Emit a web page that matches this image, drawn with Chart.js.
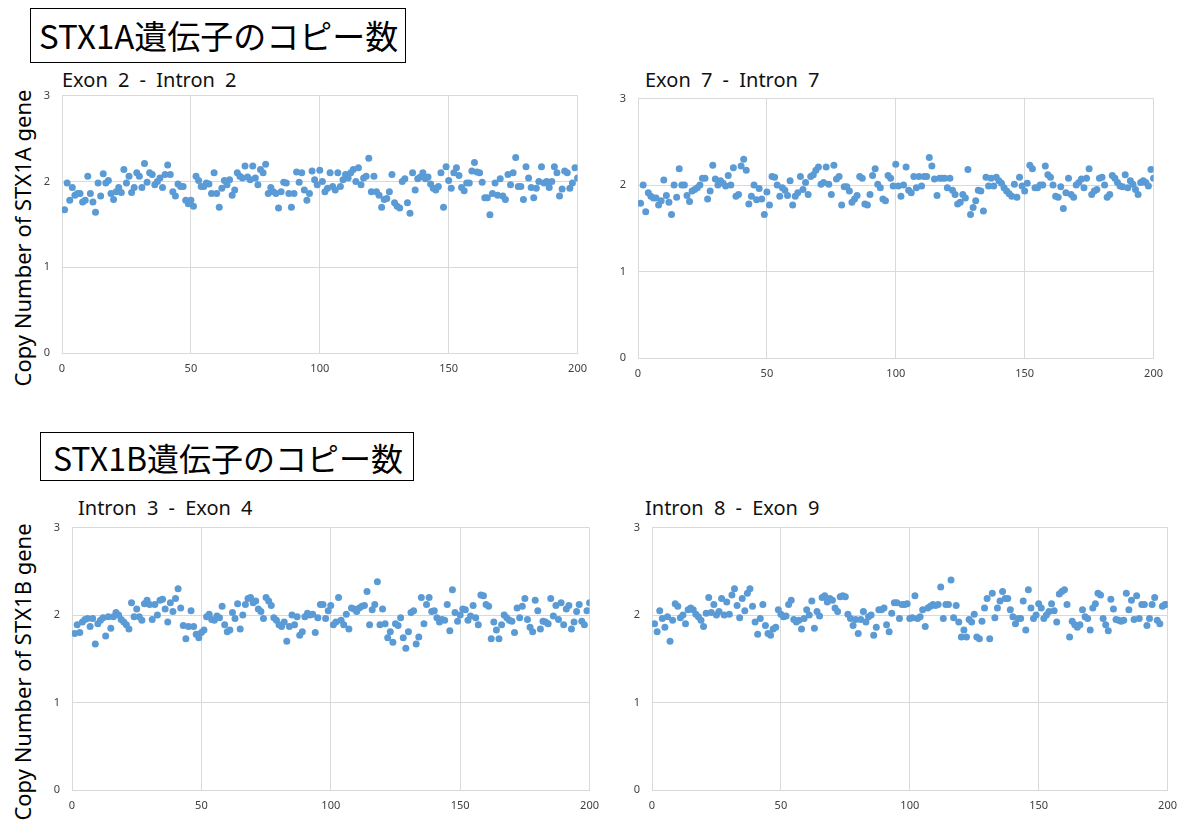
<!DOCTYPE html>
<html>
<head>
<meta charset="utf-8">
<script src="https://cdn.jsdelivr.net/npm/chart.js@4.4.1/dist/chart.umd.min.js"></script>
<style>
  body { margin: 0; background: #fff; }
  #page { position: relative; width: 1185px; height: 832px; overflow: hidden; background: #fff; }
  .box { position: absolute; border: 1px solid #000; font-family: "Noto Sans CJK JP", sans-serif; color: #000; line-height: 1; display: flex; align-items: center; box-sizing: border-box; }
  .ylab { position: absolute; font-family: "Noto Sans", sans-serif; font-size: 22px; color: #000; white-space: nowrap; transform: translate(-50%, -50%) rotate(-90deg); }
  .ttl { position: absolute; font-family: "Noto Sans", sans-serif; font-size: 20px; color: #111; white-space: nowrap; word-spacing: 5px; }
  canvas { position: absolute; }
</style>
</head>
<body>
<div id="page">
  <div class="box" style="left:30px;top:8px;width:376px;height:55px;font-size:33px;padding-left:8px;">STX1A遺伝子のコピー数</div>
  <div class="box" style="left:40px;top:432px;width:374px;height:49px;font-size:32px;padding-left:12px;">STX1B遺伝子のコピー数</div>
  <div class="ylab" style="left:22px;top:238px;">Copy Number of STX1A gene</div>
  <div class="ylab" style="left:22px;top:672px;">Copy Number of STX1B gene</div>
  <div class="ttl" style="left:62px;top:66px;">Exon 2 - Intron 2</div>
  <div class="ttl" style="left:645px;top:66px;">Exon 7 - Intron 7</div>
  <div class="ttl" style="left:78px;top:494px;">Intron 3 - Exon 4</div>
  <div class="ttl" style="left:645px;top:494px;">Intron 8 - Exon 9</div>
  <canvas id="c1"></canvas>
  <canvas id="c2"></canvas>
  <canvas id="c3"></canvas>
  <canvas id="c4"></canvas>
</div>
<script>
const xTicks = [0, 50, 100, 150, 200];
const yTicks = [0, 1, 2, 3];

const exon2Intron2 = [
  1.67,1.98,1.78,1.93,1.84,1.86,1.86,1.76,1.78,2.06,
  1.86,1.76,1.64,1.98,1.83,2.09,1.98,2.01,1.86,1.79,
  1.88,1.93,1.87,2.14,1.98,2.06,1.87,1.93,2.10,2.06,
  1.93,2.21,1.99,2.10,2.08,1.96,2.00,2.04,1.93,2.08,
  2.19,2.08,1.88,1.83,1.97,1.94,1.94,1.78,1.74,1.78,
  1.71,2.06,2.01,1.94,1.94,1.98,1.97,1.86,2.10,1.86,
  1.70,1.92,2.01,1.96,2.02,1.84,1.90,
  2.10,2.06,2.04,2.18,2.05,2.02,2.18,2.04,1.96,2.14,
  2.10,2.20,1.86,1.93,1.88,1.86,1.69,1.88,1.99,
  1.98,1.86,1.70,1.86,2.11,1.99,2.10,1.90,1.78,1.86,
  2.12,2.02,1.96,2.13,2.00,1.88,1.92,2.10,1.94,1.90,
  2.10,1.94,2.02,2.08,2.04,2.10,2.14,2.00,2.16,
  1.96,2.04,2.06,2.27,1.88,2.06,1.88,1.84,1.70,1.79,
  1.80,1.88,2.08,1.75,1.71,1.69,2.00,2.03,1.75,1.63,
  2.10,1.90,2.03,2.05,2.10,2.03,2.05,1.97,1.92,1.90,
  1.94,2.10,1.70,2.17,2.01,1.92,2.10,2.16,2.07,1.93,
  1.89,1.98,1.98,2.12,2.22,2.11,2.10,1.99,1.81,1.81,
  1.61,1.86,1.98,1.84,2.03,1.83,1.79,2.08,1.96,
  2.10,2.28,1.94,1.94,1.79,2.17,2.04,1.93,1.81,1.92,
  2.00,2.17,1.98,2.00,1.93,2.00,2.17,2.10,1.83,
  1.91,2.12,2.10,1.92,1.98,2.16,2.04
];

const exon7Intron7 = [
  1.79,2.00,1.69,1.91,1.87,1.85,1.85,1.77,1.82,2.06,
  1.88,1.80,1.66,2.00,1.86,2.19,2.00,2.00,1.88,1.81,
  1.93,1.95,1.97,2.00,2.08,2.08,1.84,1.93,2.23,2.07,
  2.00,2.05,2.02,1.99,2.11,2.00,2.20,1.87,1.89,
  2.22,2.30,2.17,1.78,1.87,2.00,1.83,1.96,1.84,1.66,
  1.92,1.77,2.10,2.09,2.00,1.87,1.97,1.94,1.88,2.05,
  1.77,1.87,1.91,2.10,1.95,2.03,1.89,2.10,
  2.12,2.17,2.21,2.01,2.03,2.21,2.01,1.89,2.23,2.07,
  2.10,1.77,1.98,1.98,1.93,1.80,1.84,1.88,2.10,2.08,
  1.78,1.77,1.89,2.11,2.19,2.01,1.97,1.84,1.82,2.11,
  2.08,1.99,2.24,1.99,1.87,2.00,2.21,1.94,1.91,2.10,
  1.97,2.10,1.99,2.10,2.10,2.32,2.22,2.07,1.88,2.08,
  2.08,2.08,1.97,2.08,1.94,1.89,1.78,1.80,1.89,1.85,
  2.18,1.66,1.74,1.82,1.94,1.93,1.70,
  2.09,1.99,2.08,1.99,2.09,2.05,2.02,1.97,1.93,1.90,
  1.87,2.01,1.86,2.09,1.99,1.93,2.02,2.23,2.19,1.97,
  1.97,2.00,2.00,2.22,2.12,2.09,2.00,1.87,1.86,
  1.98,1.73,1.91,2.08,1.89,1.86,2.00,2.03,2.07,
  1.97,2.08,2.19,1.89,1.93,1.95,2.08,2.09,2.00,1.86,
  1.89,2.11,2.08,2.03,1.99,1.98,2.12,1.97,2.05,2.01,
  1.95,1.89,2.03,2.05,2.03,1.99,2.18,2.08
];

const intron3Exon4 = [
  1.79,1.89,1.80,1.92,1.95,1.96,1.87,1.96,1.67,1.90,
  1.94,1.97,1.76,1.98,1.85,1.98,2.03,2.00,
  1.95,1.92,1.89,1.84,2.14,1.98,2.07,1.98,
  1.94,2.13,2.17,2.12,1.95,2.12,2.00,2.17,2.18,2.07,
  1.92,2.14,2.04,2.19,2.30,2.08,1.88,1.73,1.87,2.05,
  1.87,1.78,1.74,1.80,1.83,1.98,2.01,1.95,1.94,
  1.99,1.97,2.10,1.89,1.81,1.83,2.03,1.96,2.13,
  1.84,2.00,
  2.12,2.19,2.20,2.14,2.16,2.07,2.04,1.96,2.20,
  2.16,2.11,1.97,1.94,1.89,1.87,1.92,1.70,1.87,2.00,
  1.89,1.98,1.77,1.81,1.98,2.02,2.00,2.01,1.80,
  1.97,2.12,2.12,1.96,2.05,2.11,1.89,1.92,2.20,1.94,
  1.89,2.01,1.84,2.08,2.07,2.04,2.08,2.10,2.11,2.27,
  1.89,2.06,2.12,2.38,1.89,2.07,1.90,1.74,1.81,1.69,
  1.90,1.88,1.97,1.74,1.62,1.81,2.03,2.05,1.67,
  1.75,2.20,1.90,2.12,2.20,2.04,2.05,1.97,1.92,
  1.95,1.94,2.12,1.82,2.29,2.03,1.93,2.00,2.07,2.06,
  1.94,1.99,2.11,1.97,1.89,2.23,2.22,2.12,2.10,1.73,
  1.92,1.83,1.73,1.89,2.00,1.97,1.94,1.93,1.80,2.08,
  1.97,2.10,2.19,1.95,1.86,1.81,2.17,2.05,1.84,1.93,
  1.92,1.90,2.19,1.99,2.11,1.95,2.14,1.89,2.07,2.11,
  1.84,1.92,2.04,2.12,1.93,1.89,2.05,2.14
];

const intron8Exon9 = [
  1.90,1.81,2.05,1.96,1.86,1.98,1.70,1.94,2.13,2.10,
  1.97,2.00,1.90,2.06,2.08,2.06,2.01,1.98,1.94,
  1.87,2.02,2.20,2.03,2.12,2.00,2.04,2.19,2.00,
  2.15,2.01,2.23,2.30,2.11,1.97,2.19,2.05,2.25,2.30,
  2.10,1.92,1.78,1.96,2.12,1.88,1.79,1.77,1.84,1.86,
  2.06,2.01,1.98,1.99,2.12,2.17,1.95,1.92,1.94,1.84,
  1.96,2.06,2.00,2.16,1.85,2.04,1.99,2.20,
  2.22,2.15,2.19,2.17,2.08,2.04,2.21,2.22,2.21,
  2.01,1.96,1.88,1.95,1.79,1.95,2.04,1.92,1.98,2.00,
  1.77,1.86,2.06,2.06,2.08,1.89,1.81,2.02,2.14,
  2.14,1.96,2.12,2.12,2.13,1.96,1.97,2.22,1.96,1.98,
  2.06,1.87,2.08,2.10,2.12,2.11,2.12,2.32,1.96,
  2.12,2.12,2.40,1.97,2.11,1.92,1.75,1.83,1.75,1.95,
  1.92,2.01,1.75,1.73,1.93,2.08,2.19,1.73,2.25,1.97,
  2.08,2.16,2.27,2.19,2.19,2.06,1.98,1.90,1.96,1.96,
  2.16,1.83,2.29,2.08,1.96,2.00,2.13,2.08,1.96,2.00,
  2.04,2.13,2.05,1.92,2.24,2.27,2.29,2.12,1.75,1.93,
  1.89,1.86,1.89,2.06,1.98,1.96,1.83,2.08,2.13,2.25,
  2.23,1.96,1.89,1.82,2.18,2.07,1.95,1.94,1.93,1.94,
  2.25,2.06,2.17,1.95,2.22,1.96,2.12,2.12,1.88,1.96,
  2.12,2.20,1.94,1.90,2.10,2.12,2.12
];

// chart.js keeps about 18px free above and right of the plot, so the canvas is cut that much larger
const AXIS_W = 34, AXIS_H = 30, PAD_TOP = 18, PAD_RIGHT = 18;
const gridColor = '#d9d9d9';
const tickColor = '#404040';

// plot rectangles (left, top, right, bottom) in page pixels
function drawPanel(id, values, left, top, right, bottom) {
    const canvas = document.getElementById(id);
    const w = (right - left) + AXIS_W + PAD_RIGHT;
    const h = (bottom - top) + PAD_TOP + AXIS_H;
    canvas.width = w;
    canvas.height = h;
    canvas.style.width = w + 'px';
    canvas.style.height = h + 'px';
    canvas.style.left = (left - AXIS_W) + 'px';
    canvas.style.top = (top - PAD_TOP) + 'px';

    const points = values.map((v, i) => ({ x: i + 1, y: v }));

    new Chart(canvas.getContext('2d'), {
        type: 'scatter',
        data: {
            datasets: [{
                data: points,
                backgroundColor: '#5b9bd5',
                borderColor: '#5b9bd5',
                borderWidth: 0,
                pointRadius: 3.5
            }]
        },
        options: {
            responsive: false,
            animation: false,
            devicePixelRatio: 1,
            layout: { padding: { top: 2, right: 2, left: 0, bottom: 0 } },
            plugins: { legend: { display: false }, tooltip: { enabled: false } },
            scales: {
                x: {
                    type: 'linear',
                    min: xTicks[0],
                    max: xTicks[xTicks.length - 1],
                    afterBuildTicks: s => { s.ticks = xTicks.map(v => ({ value: v })); },
                    afterFit: s => { s.height = AXIS_H; },
                    grid: { color: gridColor, drawTicks: false },
                    border: { color: gridColor },
                    ticks: { color: tickColor, font: { family: 'Noto Sans', size: 11 }, padding: 9 }
                },
                y: {
                    min: yTicks[0],
                    max: yTicks[yTicks.length - 1],
                    afterBuildTicks: s => { s.ticks = yTicks.map(v => ({ value: v })); },
                    afterFit: s => { s.width = AXIS_W; },
                    grid: { color: gridColor, drawTicks: false },
                    border: { color: gridColor },
                    ticks: { color: tickColor, font: { family: 'Noto Sans', size: 11 }, padding: 12 }
                }
            }
        }
    });
}

drawPanel('c1', exon2Intron2, 62, 95, 578, 353);
drawPanel('c2', exon7Intron7, 638, 98, 1154, 358);
drawPanel('c3', intron3Exon4, 72, 527, 590, 790);
drawPanel('c4', intron8Exon9, 652, 527, 1168, 790);
</script>
</body>
</html>
